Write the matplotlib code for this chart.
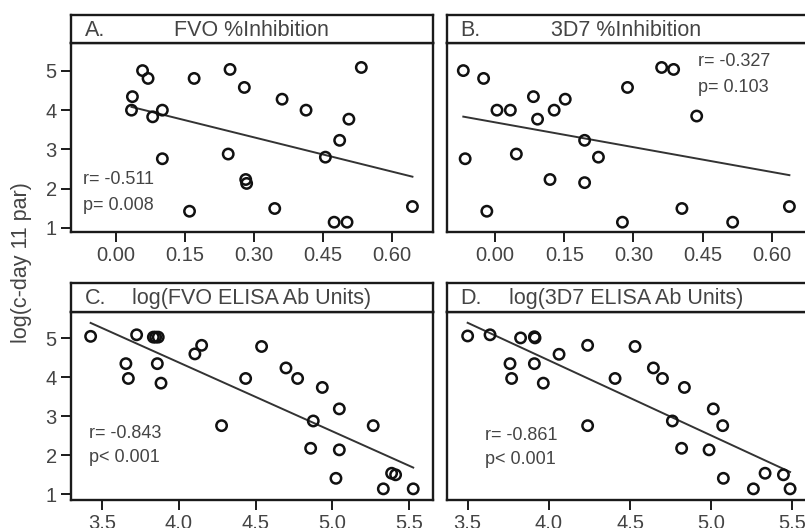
import numpy as np
import matplotlib
matplotlib.use('Agg')
import matplotlib.pyplot as plt

plt.rcParams['font.family'] = ['Liberation Sans', 'DejaVu Sans']

# panel A: FVO %Inhibition
a_x = [0.036, 0.034, 0.058, 0.070, 0.080, 0.101, 0.101, 0.170, 0.160, 0.248, 0.244, 0.279,
       0.282, 0.284, 0.345, 0.361, 0.413, 0.455, 0.486, 0.506, 0.474, 0.502, 0.533, 0.644]
a_y = [4.345, 4.00, 5.01, 4.81, 3.83, 4.00, 2.76, 4.81, 1.42, 5.04, 2.88, 4.58,
       2.23, 2.13, 1.49, 4.28, 4.00, 2.80, 3.23, 3.77, 1.14, 1.14, 5.09, 1.54]
# panel B: 3D7 %Inhibition
b_x = [-0.069, -0.025, 0.004, 0.033, -0.065, -0.018, 0.046, 0.083, 0.092, 0.128, 0.152, 0.119,
       0.194, 0.194, 0.224, 0.276, 0.287, 0.361, 0.387, 0.405, 0.437, 0.515, 0.638]
b_y = [5.01, 4.81, 4.00, 4.00, 2.76, 1.42, 2.88, 4.345, 3.77, 4.00, 4.28, 2.23,
       3.23, 2.15, 2.80, 1.14, 4.58, 5.09, 5.04, 1.49, 3.85, 1.14, 1.54]
# panel C: log(FVO ELISA Ab Units)
c_x = [3.424, 3.724, 3.833, 3.848, 3.865, 3.654, 3.670, 3.859, 3.883, 4.104, 4.148, 4.278, 4.435, 4.539,
       4.698, 4.774, 4.935, 4.876, 4.859, 5.046, 5.046, 5.024, 5.267, 5.387, 5.413, 5.333, 5.528]
c_y = [5.05, 5.09, 5.03, 5.03, 5.03, 4.35, 3.97, 4.35, 3.85, 4.60, 4.82, 2.76, 3.97, 4.79,
       4.24, 3.97, 3.74, 2.88, 2.18, 3.19, 2.14, 1.41, 2.76, 1.54, 1.50, 1.14, 1.14]
# panel D: log(3D7 ELISA Ab Units)
d_x = [3.500, 3.638, 3.826, 3.911, 3.915, 3.761, 3.771, 3.911, 3.966, 4.063, 4.239, 4.239, 4.408, 4.531,
       4.644, 4.700, 4.835, 4.761, 4.818, 5.013, 4.987, 5.071, 5.075, 5.260, 5.332, 5.445, 5.486]
d_y = [5.06, 5.09, 5.01, 5.04, 5.01, 4.35, 3.97, 4.35, 3.85, 4.59, 4.82, 2.76, 3.97, 4.79,
       4.24, 3.97, 3.74, 2.88, 2.18, 3.19, 2.14, 2.76, 1.41, 1.14, 1.54, 1.50, 1.14]

letters = ['A.', 'B.', 'C.', 'D.']
titles = ['FVO %Inhibition', '3D7 %Inhibition', 'log(FVO ELISA Ab Units)', 'log(3D7 ELISA Ab Units)']
stats = [('r= -0.511', 'p= 0.008'), ('r= -0.327', 'p= 0.103'),
         ('r= -0.843', 'p< 0.001'), ('r= -0.861', 'p< 0.001')]
xticks_pct = [0.00, 0.15, 0.30, 0.45, 0.60]
xticks_elisa = [3.5, 4.0, 4.5, 5.0, 5.5]
yticks = [1, 2, 3, 4, 5]

W, H = 805, 528
fig = plt.figure(figsize=(W / 100, H / 100), dpi=100)

def box(l, t, r, b):
    return [l / W, 1 - b / H, (r - l) / W, (b - t) / H]

# pixel frames: (left, strip top, strip bottom, plot bottom, right)
frames = [(70.7, 14.7, 42.7, 232, 432.7), (446.7, 14.7, 42.7, 232, 806),
          (70.7, 282.7, 311.7, 500, 432.7), (446.7, 282.7, 311.7, 500, 806)]
xlims = [(-0.098, 0.688), (-0.105, 0.674), (3.294, 5.655), (3.371, 5.584)]
ylims = [(0.89, 5.722), (0.89, 5.722), (0.854, 5.682), (0.854, 5.682)]
data = [(a_x, a_y), (b_x, b_y), (c_x, c_y), (d_x, d_y)]
stat_pos = [(83, 180, 206), (698, 62, 88), (89, 433, 457), (485, 435, 459)]

fg = '#1a1a1a'
tc = '#444444'
for i in range(4):
    l, st, sb, pb, r = frames[i]
    ax = fig.add_axes(box(l, sb, r, pb))
    x = np.array(data[i][0])
    y = np.array(data[i][1])
    ax.scatter(x, y, s=56, facecolors='none', edgecolors='#111111', linewidths=1.8, zorder=3)
    m, c = np.polyfit(x, y, 1)
    xx = np.array([x.min(), x.max()])
    ax.plot(xx, m * xx + c, color='#333333', lw=1.4)
    ax.set_xlim(*xlims[i])
    ax.set_ylim(*ylims[i])
    ax.set_xticks(xticks_pct if i < 2 else xticks_elisa)
    if i < 2:
        ax.set_xticklabels(['%.2f' % v for v in xticks_pct])
    else:
        ax.set_xticklabels(['%.1f' % v for v in xticks_elisa])
    ax.set_yticks(yticks)
    if i % 2 == 1:
        ax.tick_params(axis='y', left=False, labelleft=False)
    ax.tick_params(direction='out', length=7, width=1.4, colors=fg, labelsize=14.5,
                   labelcolor=tc, pad=3)
    for sp in ax.spines.values():
        sp.set_linewidth(1.7)
        sp.set_color(fg)
    # stats text
    sx, ry, py = stat_pos[i]
    fig.text(sx / W, 1 - ry / H, stats[i][0], fontsize=13, color=tc, va='center')
    fig.text(sx / W, 1 - py / H, stats[i][1], fontsize=13, color=tc, va='center')

    # strip header
    sa = fig.add_axes(box(l, st, r, sb))
    sa.set_xticks([])
    sa.set_yticks([])
    for sp in sa.spines.values():
        sp.set_linewidth(1.7)
        sp.set_color(fg)
    sa.text(14 / (r - l), 0.45, letters[i], transform=sa.transAxes, fontsize=15.5,
            color=tc, va='center', ha='left')
    sa.text(0.5, 0.45, titles[i], transform=sa.transAxes,
            fontsize=15.5, color=tc, va='center', ha='center')

fig.text(22 / W, 1 - 263 / H, 'log(c-day 11 par)', rotation=90, fontsize=15.5,
         color=tc, va='center', ha='center')

fig.savefig('out.png', dpi=100)
